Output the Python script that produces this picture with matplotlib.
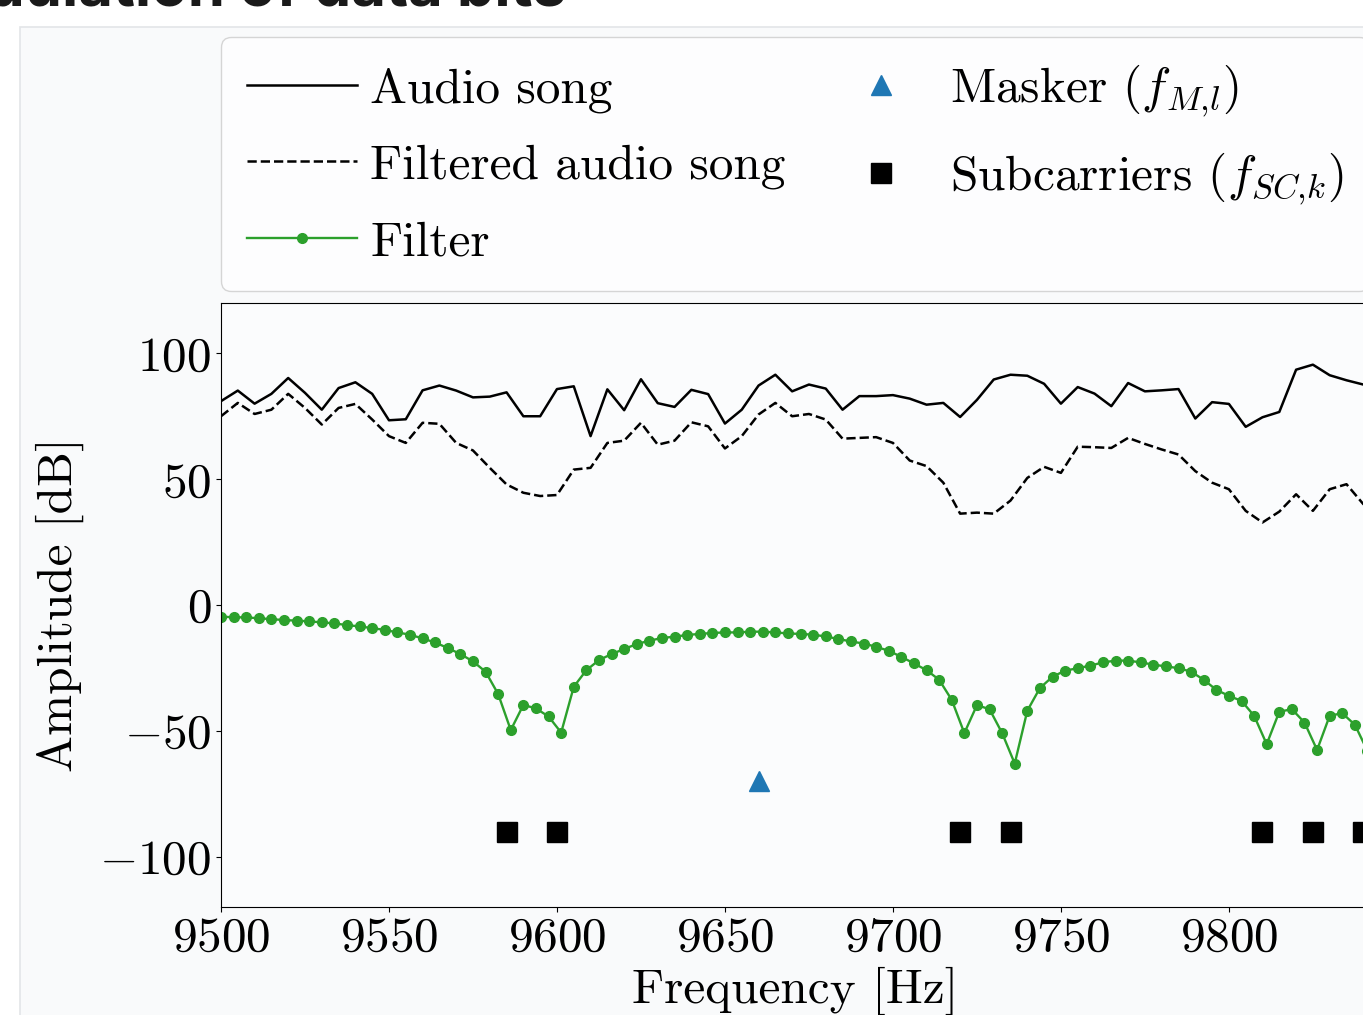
import matplotlib
matplotlib.use("Agg")
import numpy as np
import matplotlib.pyplot as plt
from matplotlib.patches import Rectangle

plt.rcParams["font.family"] = "serif"
plt.rcParams["font.serif"] = ["cmr10"]
plt.rcParams["mathtext.fontset"] = "cm"
plt.rcParams["axes.formatter.use_mathtext"] = True
plt.rcParams["font.size"] = 35.5

# audio spectrum, 5 Hz bins
audio_freq = np.arange(9500, 9850, 5)
audio_db = [81.0, 85.2, 80.0, 83.9, 90.2, 84.3, 77.6, 86.2, 88.5, 83.9,
            73.4, 73.8, 85.3, 87.2, 85.2, 82.5, 82.8, 84.5, 75.0, 75.0,
            85.8, 86.9, 67.1, 85.7, 77.4, 89.7, 80.2, 78.7, 85.5, 83.8,
            72.1, 77.6, 87.2, 91.5, 84.9, 87.6, 86.0, 77.6, 83.0, 83.0,
            83.4, 82.0, 79.6, 80.3, 74.7, 81.5, 89.6, 91.5, 91.1, 87.9,
            80.0, 86.6, 84.0, 79.0, 88.2, 84.9, 85.3, 85.8, 74.1, 80.6,
            79.9, 70.8, 74.6, 76.7, 93.5, 95.5, 91.3, 89.3, 87.6, 86.0]
filtered_db = [75.0, 80.3, 75.9, 77.6, 83.9, 78.3, 71.7, 78.3, 79.9, 73.7,
               67.1, 64.4, 72.4, 72.0, 64.4, 61.4, 54.5, 47.9, 44.6, 43.3,
               43.7, 53.8, 54.5, 64.4, 65.3, 72.4, 63.7, 65.3, 72.6, 71.0,
               62.2, 67.1, 75.7, 80.3, 75.0, 75.9, 73.7, 66.1, 66.4, 66.7,
               64.4, 57.4, 55.2, 48.6, 36.3, 36.7, 36.3, 41.5, 50.5, 54.9,
               52.5, 62.9, 62.7, 62.4, 66.4, 64.0, 61.8, 59.8, 53.2, 48.6,
               46.0, 37.4, 32.8, 37.1, 44.0, 37.4, 46.0, 48.0, 40.1, 36.0]

# filter response, 3.75 Hz bins
filter_freq = 9500 + 3.75 * np.arange(94)
filter_db = [-4.6, -4.9, -4.9, -5.3, -5.6, -6.0, -6.2, -6.5, -6.9, -7.3,
             -8.0, -8.5, -9.2, -9.9, -10.9, -11.8, -13.3, -14.9, -17.1, -19.5,
             -22.4, -26.5, -35.4, -49.7, -39.7, -41.1, -44.3, -50.7, -32.5, -25.9,
             -21.9, -19.5, -17.5, -15.5, -14.2, -13.1, -12.6, -11.9, -11.5, -11.1,
             -10.9, -10.9, -10.6, -10.6, -10.9, -11.3, -11.5, -11.8, -12.5, -13.5,
             -14.5, -15.3, -16.6, -18.2, -20.6, -23.2, -25.9, -29.7, -37.7, -50.9,
             -39.8, -41.4, -50.9, -63.0, -42.0, -33.0, -28.5, -26.1, -25.1, -24.1,
             -22.8, -22.1, -22.1, -22.8, -23.7, -24.4, -25.1, -26.5, -29.7, -33.7,
             -36.1, -38.1, -44.0, -55.3, -42.4, -41.4, -46.7, -57.6, -44.0, -43.0,
             -47.6, -58.0, -45.0, -41.0]

masker_freq = [9660]
masker_db = [-70]
subcarrier_freq = [9585, 9600, 9720, 9735, 9810, 9825, 9840]
subcarrier_db = [-90] * len(subcarrier_freq)

W, H = 1363, 1015
fig = plt.figure(figsize=(W / 100, H / 100), dpi=100, facecolor="white")

# slide card behind the chart
fig.add_artist(Rectangle((20 / W, -0.1), 1.2, 1 - 27 / H + 0.1, transform=fig.transFigure,
                         facecolor="#f9fafb", edgecolor="#e3e5e8", linewidth=1.2, zorder=0))
fig.text(566 / W, 1 - 5 / H, "Modulation of data bits", ha="right", va="baseline",
         fontsize=43, fontweight="bold", family="Inter", color="#1a1a1a")

ax = fig.add_axes([221 / W, 1 - 907 / H, 1148 / W, 604 / H])
ax.set_facecolor("#fbfcfd")

ax.plot(audio_freq, audio_db, color="black", lw=1.8, label="Audio song")
ax.plot(audio_freq, filtered_db, color="black", lw=1.8, ls="--", label="Filtered audio song")
ax.plot(filter_freq, filter_db, color="tab:green", lw=1.7, marker="o", ms=7, label="Filter")
ax.plot(masker_freq, masker_db, color="tab:blue", ls="none", marker="^", ms=15,
        label=r"Masker ($f_{M{,}l}$)")
ax.plot(subcarrier_freq, subcarrier_db, color="black", ls="none", marker="s", ms=14,
        label=r"Subcarriers ($f_{SC{,}k}$)")

ax.set_xlim(9500, 9841.7)
ax.set_ylim(-120, 120)
ax.set_xticks([9500, 9550, 9600, 9650, 9700, 9750, 9800])
ax.set_yticks([-100, -50, 0, 50, 100])
ax.set_xlabel("Frequency [Hz]")
ax.set_ylabel("Amplitude [dB]", labelpad=11)

ax.legend(bbox_to_anchor=(0, 1.02, 1, 0.2), loc="lower left", mode="expand",
          borderaxespad=0, ncol=2, handlelength=2.23, handletextpad=0.28,
          labelspacing=0.64, borderpad=0.52)

fig.savefig("out.png", dpi=100)
